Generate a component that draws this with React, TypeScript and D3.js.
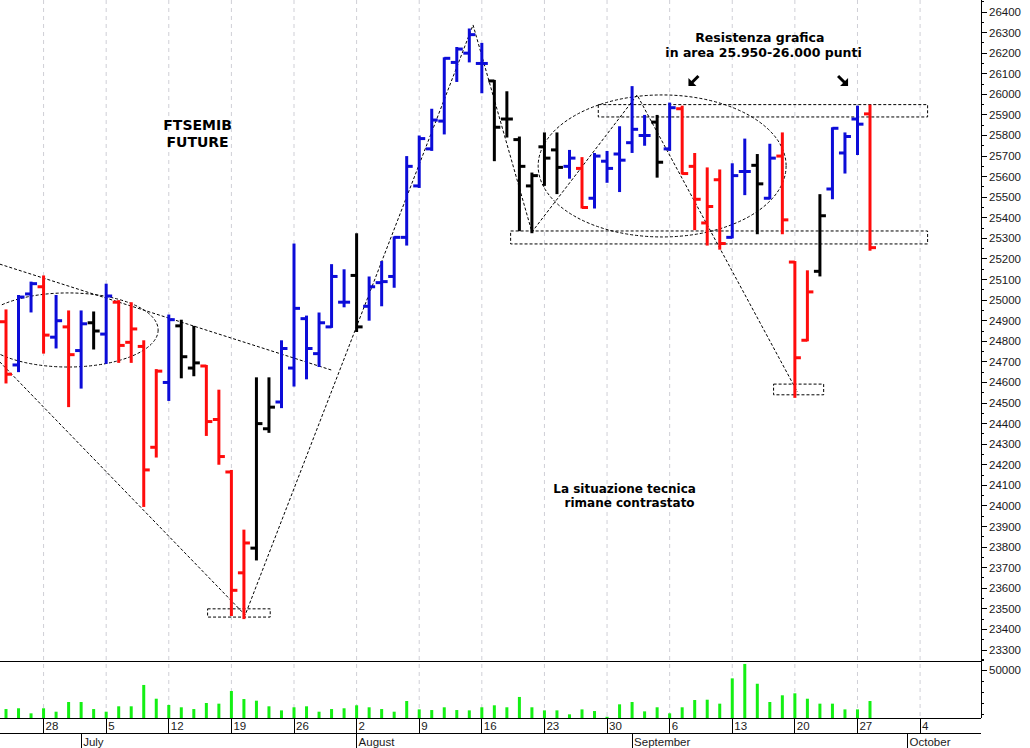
import * as d3 from "d3";

// trading days from 23 June 2021 (weekdays only, axis runs past the last bar)
const days = d3.timeDay
  .range(new Date(2021, 5, 23), new Date(2021, 9, 12))
  .filter((d) => d.getDay() % 6 !== 0);

// OHLC (index 0 = 23 June, 69 = 28 Sept)
const opens = [
  24895, 24685, 25030, 25065, 24820, 24870, 24755, 24890, 24835, 24990,
  24795, 24775, 24285, 24600, 24875, 24670, 24680, 24420, 24165, 23675,
  23795, 24375, 24505, 24670, 24910, 24740, 24870, 24990, 25120, 24970,
  25085, 25115, 25305, 25555, 25735, 25870, 26155, 26200, 26150, 26065,
  25880, 25780, 25555, 25745, 25730, 25650, 25640, 25495, 25675, 25710,
  25765, 25800, 25865, 25735, 25930, 25650, 25375, 25585, 25305, 25625,
  25655, 25495, 25700, 25185, 24805, 25140, 25540, 25715, 25880, 25905,
];
const highs = [
  24950, 25020, 25085, 25115, 25020, 24945, 24945, 24940, 25075, 24995,
  24985, 24800, 24660, 24925, 24900, 24870, 24680, 24560, 24170, 23880,
  24620, 24620, 24800, 25270, 24920, 24935, 25170, 25145, 25320, 25110,
  25185, 25305, 25695, 25795, 25925, 26175, 26225, 26315, 26245, 26065,
  26010, 25790, 25615, 25810, 25810, 25725, 25690, 25710, 25720, 25840,
  26035, 25895, 25895, 25955, 25940, 25710, 25640, 25630, 25660, 25780,
  25705, 25755, 25810, 25185, 25140, 25510, 25835, 25810, 25940, 25945,
];
const lows = [
  24600, 24655, 24945, 24745, 24770, 24485, 24575, 24765, 24695, 24700,
  24700, 24000, 24240, 24515, 24625, 24635, 24345, 24205, 23470, 23455,
  23740, 24360, 24480, 24585, 24620, 24680, 24870, 24970, 24850, 24905,
  24975, 25065, 25270, 25550, 25730, 25810, 26065, 26160, 26010, 25680,
  25795, 25340, 25330, 25560, 25520, 25595, 25450, 25450, 25575, 25530,
  25720, 25755, 25600, 25730, 25615, 25345, 25270, 25250, 25305, 25515,
  25325, 25495, 25325, 24530, 24805, 25120, 25495, 25620, 25710, 25245,
];
const closes = [
  24640, 25015, 25080, 24830, 24900, 24735, 24885, 24850, 25020, 24780,
  24860, 24175, 24655, 24905, 24725, 24695, 24410, 24240, 23590, 23820,
  24400, 24480, 24765, 24960, 24765, 24890, 25115, 24990, 24870, 25065,
  25090, 25305, 25650, 25785, 25875, 26175, 26220, 26290, 26150, 25840,
  25880, 25650, 25605, 25690, 25645, 25690, 25450, 25700, 25640, 25680,
  25830, 25800, 25670, 25935, 25615, 25490, 25455, 25275, 25605, 25625,
  25565, 25690, 25390, 24720, 25040, 25410, 25835, 25795, 25855, 25255,
];
// b = blue, r = red, k = black
const barColors = [
  "r", "b", "b", "r", "b", "r", "b", "k", "b", "r",
  "r", "r", "r", "b", "k", "k", "r", "r", "r", "r",
  "k", "k", "b", "b", "b", "b", "b", "b", "k", "b",
  "b", "b", "b", "b", "b", "b", "b", "b", "b", "k",
  "k", "k", "k", "k", "k", "b", "r", "b", "b", "b",
  "b", "b", "k", "b", "r", "r", "r", "r", "b", "b",
  "k", "b", "r", "r", "r", "k", "b", "b", "b", "r",
];
const volumes = [
  14500, 15200, 10600, 15200, 12100, 20900, 20900, 14500, 12100, 17000,
  17000, 36400, 23900, 18200, 16100, 14500, 20000, 19400, 30900, 23600,
  22100, 17000, 13300, 16100, 17000, 12100, 14500, 15200, 17900, 16100,
  14500, 12100, 21800, 14200, 13600, 16100, 13600, 13300, 16100, 17900,
  16100, 25500, 16100, 13300, 13300, 9700, 14200, 12700, 7500, 18800,
  20900, 12400, 16100, 10600, 16100, 22700, 23000, 19400, 42400, 55500,
  37500, 20900, 27000, 28800, 23900, 19400, 19400, 14200, 14200, 21800,
];

// hand-drawn annotations, in [day index, price]
const topTrend = [[-0.5, 25175], [26, 24660]];
const zigzag = [[-0.5, 24700], [19.1, 23470], [37.3, 26337], [42, 25331], [50.4, 25997], [63.2, 24554]];
const ellipses = [
  { cx: 4.95, cy: 24855, rxDays: 7.2, ryPts: 180 },
  { cx: 52.4, cy: 25652, rxDays: 9.9, ryPts: 345 },
];
const boxes = [
  { x0: 47.3, x1: 73.6, p0: 25890, p1: 25950 },
  { x0: 40.3, x1: 73.6, p0: 25273, p1: 25336 },
  { x0: 16.1, x1: 21.1, p0: 23460, p1: 23500 },
  { x0: 61.3, x1: 65.3, p0: 24540, p1: 24592 },
];
const notes = [
  { i: 15.3, p: 25827, text: "FTSEMIB", size: 14 },
  { i: 15.3, p: 25744, text: "FUTURE", size: 14 },
  { i: 60.2, p: 26254, text: "Resistenza grafica", size: 12.5 },
  { i: 60.5, p: 26181, text: "in area 25.950-26.000 punti", size: 12.5 },
  { i: 49.4, p: 24063, text: "La situazione tecnica", size: 12 },
  { i: 49.8, p: 23995, text: "rimane contrastato", size: 12 },
];
const arrows = [
  { i: 54.9, p: 26065, dir: -1 },
  { i: 66.85, p: 26065, dir: 1 },
];

export default function App() {
  const width = 1030;
  const height = 748;
  const axisX = 981;
  const priceBottom = 661;
  const volBottom = 718;
  const dayBottom = 733;

  const x = d3.scaleLinear().domain([0, 69]).range([6, 870]);
  const y = d3.scaleLinear().domain([23300, 26400]).range([650, 12]);
  const yVol = d3.scaleLinear().domain([0, 50000]).range([725, 670]);
  const colorOf: Record<string, string> = { b: "#0c0cd8", r: "#ff0c0c", k: "#000000" };

  const mondays = days
    .map((d, i) => ({ d, i }))
    .filter((o) => o.d.getDay() === 1 && x(o.i) < axisX - 20);
  const monthStarts = days
    .map((d, i) => ({ d, i }))
    .filter((o) => o.i > 0 && o.d.getMonth() !== days[o.i - 1].getMonth() && x(o.i) < axisX);

  const line = d3.line<number[]>().x((d) => x(d[0])).y((d) => y(d[1]));
  const majorTicks = d3.range(23300, 26401, 100);
  const minorTicks = d3.range(23250, 26451, 100);
  const tick = 6;
  const axisFont = "'Liberation Sans', Arial, sans-serif";
  const noteFont = "'DejaVu Sans', Verdana, sans-serif";

  return (
    <div style={{ position: "absolute", left: 0, top: 0 }}>
      <svg width={width} height={height} style={{ display: "block", background: "#fff" }}>
        <defs>
          <clipPath id="pricePanel">
            <rect x={0} y={0} width={axisX} height={priceBottom} />
          </clipPath>
        </defs>

        {/* weekly grid */}
        {mondays.map((o) => (
          <line key={"g" + o.i} x1={x(o.i)} x2={x(o.i)} y1={0} y2={volBottom}
            stroke="#cfcfd6" strokeDasharray="4,4" />
        ))}

        {/* annotations */}
        <g clipPath="url(#pricePanel)" fill="none" stroke="#000" strokeWidth={1} strokeDasharray="3,2">
          <path d={line(topTrend) || ""} />
          <path d={line(zigzag) || ""} />
          {ellipses.map((e, k) => (
            <ellipse key={"e" + k} cx={x(e.cx)} cy={y(e.cy)}
              rx={x(e.cx + e.rxDays) - x(e.cx)} ry={y(e.cy - e.ryPts) - y(e.cy)} />
          ))}
          {boxes.map((b, k) => (
            <rect key={"b" + k} x={x(b.x0)} y={y(b.p1)} width={x(b.x1) - x(b.x0)} height={y(b.p0) - y(b.p1)} />
          ))}
        </g>

        {/* OHLC bars */}
        <g clipPath="url(#pricePanel)" strokeWidth={3}>
          {opens.map((o, i) => {
            const c = colorOf[barColors[i]];
            const cx = x(i);
            return (
              <g key={"bar" + i} stroke={c}>
                <line x1={cx} x2={cx} y1={y(highs[i]) - 1} y2={y(lows[i]) + 1} />
                <line x1={cx - tick} x2={cx} y1={y(o)} y2={y(o)} />
                <line x1={cx} x2={cx + tick} y1={y(closes[i])} y2={y(closes[i])} />
              </g>
            );
          })}
        </g>

        {/* volume */}
        {volumes.map((v, i) => (
          <rect key={"v" + i} x={x(i) - 1.5} y={yVol(v)} width={3}
            height={Math.max(0, volBottom - yVol(v))} fill="#14f014" />
        ))}

        {/* notes */}
        {notes.map((n, k) => (
          <text key={"n" + k} x={x(n.i)} y={y(n.p)} textAnchor="middle"
            fontFamily={noteFont} fontWeight="bold" fontSize={n.size} fill="#000">
            {n.text}
          </text>
        ))}
        {arrows.map((a, k) => {
          const cx = x(a.i);
          const cy = y(a.p);
          const s = a.dir;
          return (
            <g key={"a" + k} fill="#000" stroke="#000">
              <line x1={cx - 5 * s} y1={cy - 5} x2={cx + 2 * s} y2={cy + 2} strokeWidth={3} />
              <polygon stroke="none"
                points={`${cx + 5 * s},${cy + 5} ${cx + 5 * s},${cy - 3} ${cx - 3 * s},${cy + 5}`} />
            </g>
          );
        })}

        {/* frame */}
        <g stroke="#000" strokeWidth={1} shapeRendering="crispEdges">
          <line x1={0} x2={axisX} y1={priceBottom} y2={priceBottom} />
          <line x1={0} x2={axisX} y1={volBottom} y2={volBottom} />
          <line x1={0} x2={axisX} y1={dayBottom} y2={dayBottom} />
          <line x1={axisX} x2={axisX} y1={0} y2={volBottom} />
        </g>

        {/* price axis */}
        <g stroke="#000" shapeRendering="crispEdges">
          {majorTicks.map((p) => (
            <line key={"mt" + p} x1={axisX} x2={axisX + 6} y1={y(p)} y2={y(p)} />
          ))}
          {minorTicks.map((p) => (
            <line key={"nt" + p} x1={axisX} x2={axisX + 3} y1={y(p)} y2={y(p)} />
          ))}
          {[10000, 20000, 30000, 40000, 60000].map((v) => (
            <line key={"vt" + v} x1={axisX} x2={axisX + 3} y1={yVol(v)} y2={yVol(v)} />
          ))}
          <line x1={axisX} x2={axisX + 6} y1={yVol(50000)} y2={yVol(50000)} />
        </g>
        <g fontFamily={axisFont} fontSize={11.5} fill="#1a1a1a" dominantBaseline="central">
          {majorTicks.map((p) => (
            <text key={"pl" + p} x={axisX + 8} y={y(p)}>{p}</text>
          ))}
          <text x={axisX + 8} y={yVol(50000)}>50000</text>
        </g>

        {/* date axis */}
        <g stroke="#000" shapeRendering="crispEdges">
          {mondays.map((o) => (
            <line key={"dt" + o.i} x1={x(o.i)} x2={x(o.i)} y1={volBottom} y2={dayBottom} />
          ))}
          {monthStarts.map((o) => (
            <line key={"mt" + o.i} x1={x(o.i)} x2={x(o.i)} y1={dayBottom} y2={height} />
          ))}
        </g>
        <g fontFamily={axisFont} fontSize={11.5} fill="#1a1a1a">
          {mondays.map((o) => (
            <text key={"dl" + o.i} x={x(o.i) + 2} y={dayBottom - 3}>{o.d.getDate()}</text>
          ))}
          {monthStarts.map((o) => (
            <text key={"ml" + o.i} x={x(o.i) + 2} y={height - 2}>{d3.timeFormat("%B")(o.d)}</text>
          ))}
        </g>
      </svg>
    </div>
  );
}
